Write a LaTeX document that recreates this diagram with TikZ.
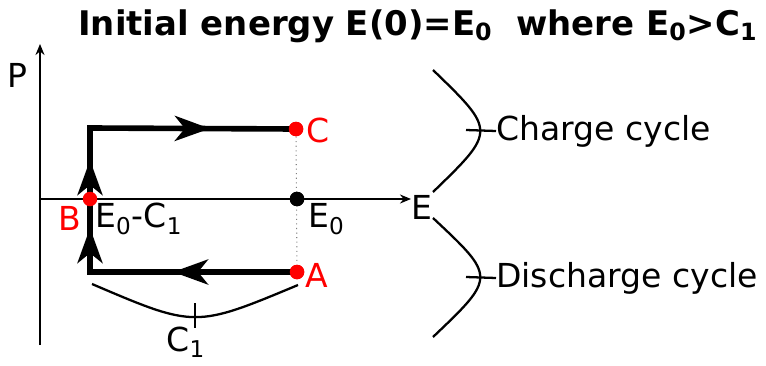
\documentclass[tikz,border=0pt]{standalone}
\usepackage{fontspec}
\setmainfont{DejaVu Sans}
\usetikzlibrary{arrows.meta,positioning,decorations.markings}

\begin{document}
\begin{tikzpicture}[x=0.02cm, y=-0.02cm,
    lbl/.style={font=\fontsize{18.8}{21}\selectfont, inner sep=0pt},
    ttl/.style={font=\fontsize{19.3}{22}\selectfont\bfseries, inner sep=0pt},
    dot/.style={circle, fill=#1, minimum size=0.29cm, inner sep=0pt},
    axis/.style={line width=1.4pt, -{Stealth[length=2.2mm, width=1.8mm]}},
    cyc/.style={line width=3.2pt, line join=miter},
    brc/.style={line width=1.3pt},
    flow/.style={postaction={decorate}, decoration={markings,
        mark=at position 2.48cm with {\arrow{Stealth[length=7mm, width=5mm, inset=2mm]}},
        mark=at position 5.02cm with {\arrow{Stealth[length=7mm, width=5mm, inset=2mm]}},
        mark=at position 6.38cm with {\arrow{Stealth[length=7mm, width=5mm, inset=2mm]}},
        mark=at position 9.42cm with {\arrow{Stealth[length=7mm, width=5mm, inset=2mm]}}}},
]
\useasboundingbox (0,0) rectangle (766,365);

% title
\node[ttl, anchor=base west] (title) at (78,35) {Initial energy E(0)=E\textsubscript{0}\ \ where E\textsubscript{0}>C\textsubscript{1}};

% axes
\coordinate (o) at (40,199);
\coordinate (pbot) at (40,345);
\coordinate (ptop) at (40,44);
\coordinate (eend) at (411,199);
\draw[axis] (pbot) -- (ptop);
\draw[axis] (o) -- (eend);
\node[lbl] (P) at (17,75) {P};
\node[lbl] (E) at (422,207) {E};

% points of the cycle
\coordinate (bl) at (90,272);
\coordinate (tl) at (90,128);
\node[dot=red] (A) at (297,272) {};
\node[dot=red] (C) at (296,129) {};
\node[dot=black] (E0) at (297,199) {};
\draw[gray, line width=0.6pt, dotted] (C) -- (A);
\draw[cyc, flow] (A.center) -- (bl) -- (tl) -- (C.center);
\node[dot=red] (B) at (90,199) {};
\node[dot=red] at (A) {};
\node[dot=red] at (C) {};
\node[dot=black] at (E0) {};

% labels
\node[lbl, red] (Alab) at (317,275) {A};
\node[lbl, red] (Clab) at (318,130) {C};
\node[lbl, red] (Blab) at (70,218) {B};
\node[lbl, anchor=west] (diff) at (95,219) {E\textsubscript{0}-C\textsubscript{1}};
\node[lbl, anchor=west] (E0lab) at (308,219) {E\textsubscript{0}};

% brace for C1
\coordinate (c1a) at (92,284);
\coordinate (c1b) at (298,285);
\draw[brc] (c1a) .. controls (195,328) .. (c1b);
\draw[brc] (195,303) -- (195,328);
\node[lbl] (C1) at (186,342) {C\textsubscript{1}};

% braces for the cycles
\coordinate (ch1) at (433,70);
\coordinate (ch2) at (433,192);
\coordinate (dc1) at (433,218);
\coordinate (dc2) at (433,337);
\draw[brc] (ch1) .. controls (496,131) .. (ch2);
\draw[brc] (dc1) .. controls (496,277) .. (dc2);
\coordinate (cht) at (466,130);
\coordinate (dct) at (466,277);
\node[lbl, anchor=west] (charge) at (496,131) {Charge cycle};
\node[lbl, anchor=west] (discharge) at (496,278) {Discharge cycle};
\draw[brc] (cht) -- (charge.west);
\draw[brc] (dct) -- (discharge.west);
\end{tikzpicture}
\end{document}
